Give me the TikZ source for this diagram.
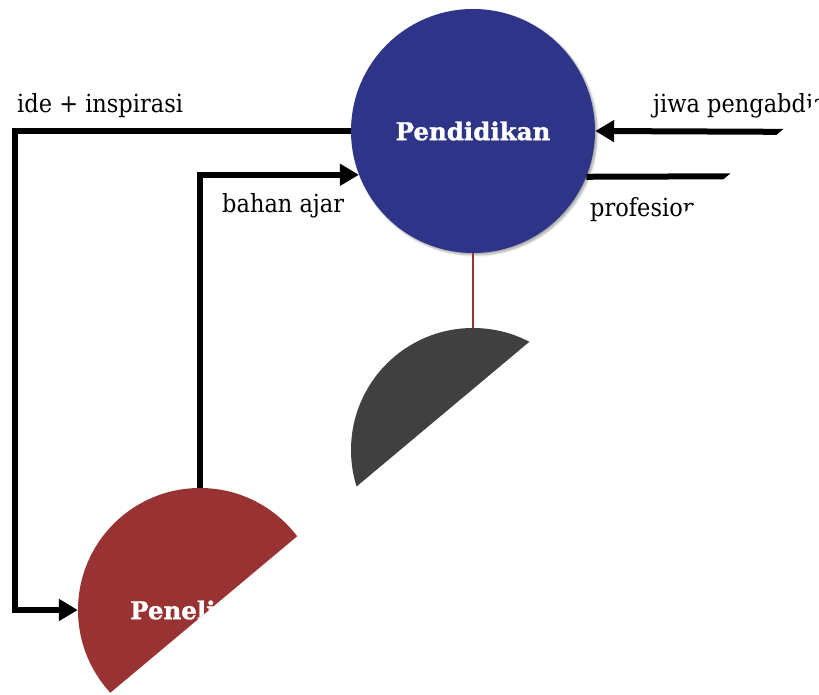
\documentclass[tikz,border=0pt]{standalone}
\usepackage{fontspec}
\setmainfont{DejaVu Serif}
\newfontfamily\lblfont[FakeStretch=0.9]{DejaVu Serif}
\newfontfamily\headfont[FakeBold=1.2]{DejaVu Serif Bold}
\usetikzlibrary{arrows.meta,shadows.blur}
\definecolor{pblue}{HTML}{2E3588}
\definecolor{pgray}{HTML}{404040}
\definecolor{pred}{HTML}{993333}
\tikzset{
  disc/.style={circle, minimum size=244pt, inner sep=0pt, text=white, font=\headfont\fontsize{24.5}{29}\selectfont},
  flow/.style={line width=6pt, -{Triangle[length=19pt,width=21pt]}},
  plain/.style={line width=6pt},
  lbl/.style={anchor=base west, inner sep=0pt, font=\lblfont\fontsize{25}{29}\selectfont},
  link/.style={draw=pred, line width=1.3pt}
}
\begin{document}
\begin{tikzpicture}[x=1pt,y=-1pt]
\useasboundingbox (0,0) rectangle (819,695);
\clip (0,0) -- (819,0) -- (819,99.2) -- (107.6,695) -- (0,695) -- cycle;
\node[disc, fill=pblue, blur shadow={shadow xshift=2pt, shadow yshift=-2pt, shadow blur steps=6, shadow opacity=35}] (pend) at (473,131) {Pendidikan};
\node[disc, fill=pgray] (gray) at (473,450) {};
\node[disc, fill=pred] (pen) at (200,610) {Penelitian};
\coordinate (L) at (15,0);
\coordinate (R1) at (819,132);
\coordinate (R2) at (819,176);
\draw[link] (pend.south) -- (gray.north);
\draw[flow] (pend.west) -| (L |- pen.west) -- (pen.west);
\draw[flow] (pen.north) |- (pend.201.6);
\draw[flow] (R1) -- (pend.east);
\draw[plain] (pend.338.8) -- (R2);
\node[lbl] (t1) at (17,113) {ide + inspirasi};
\node[lbl] (t2) at (222,213) {bahan ajar};
\node[lbl] (t3) at (653,113) {jiwa pengabdian};
\node[lbl] (t4) at (590,217) {profesional};
\end{tikzpicture}
\end{document}
